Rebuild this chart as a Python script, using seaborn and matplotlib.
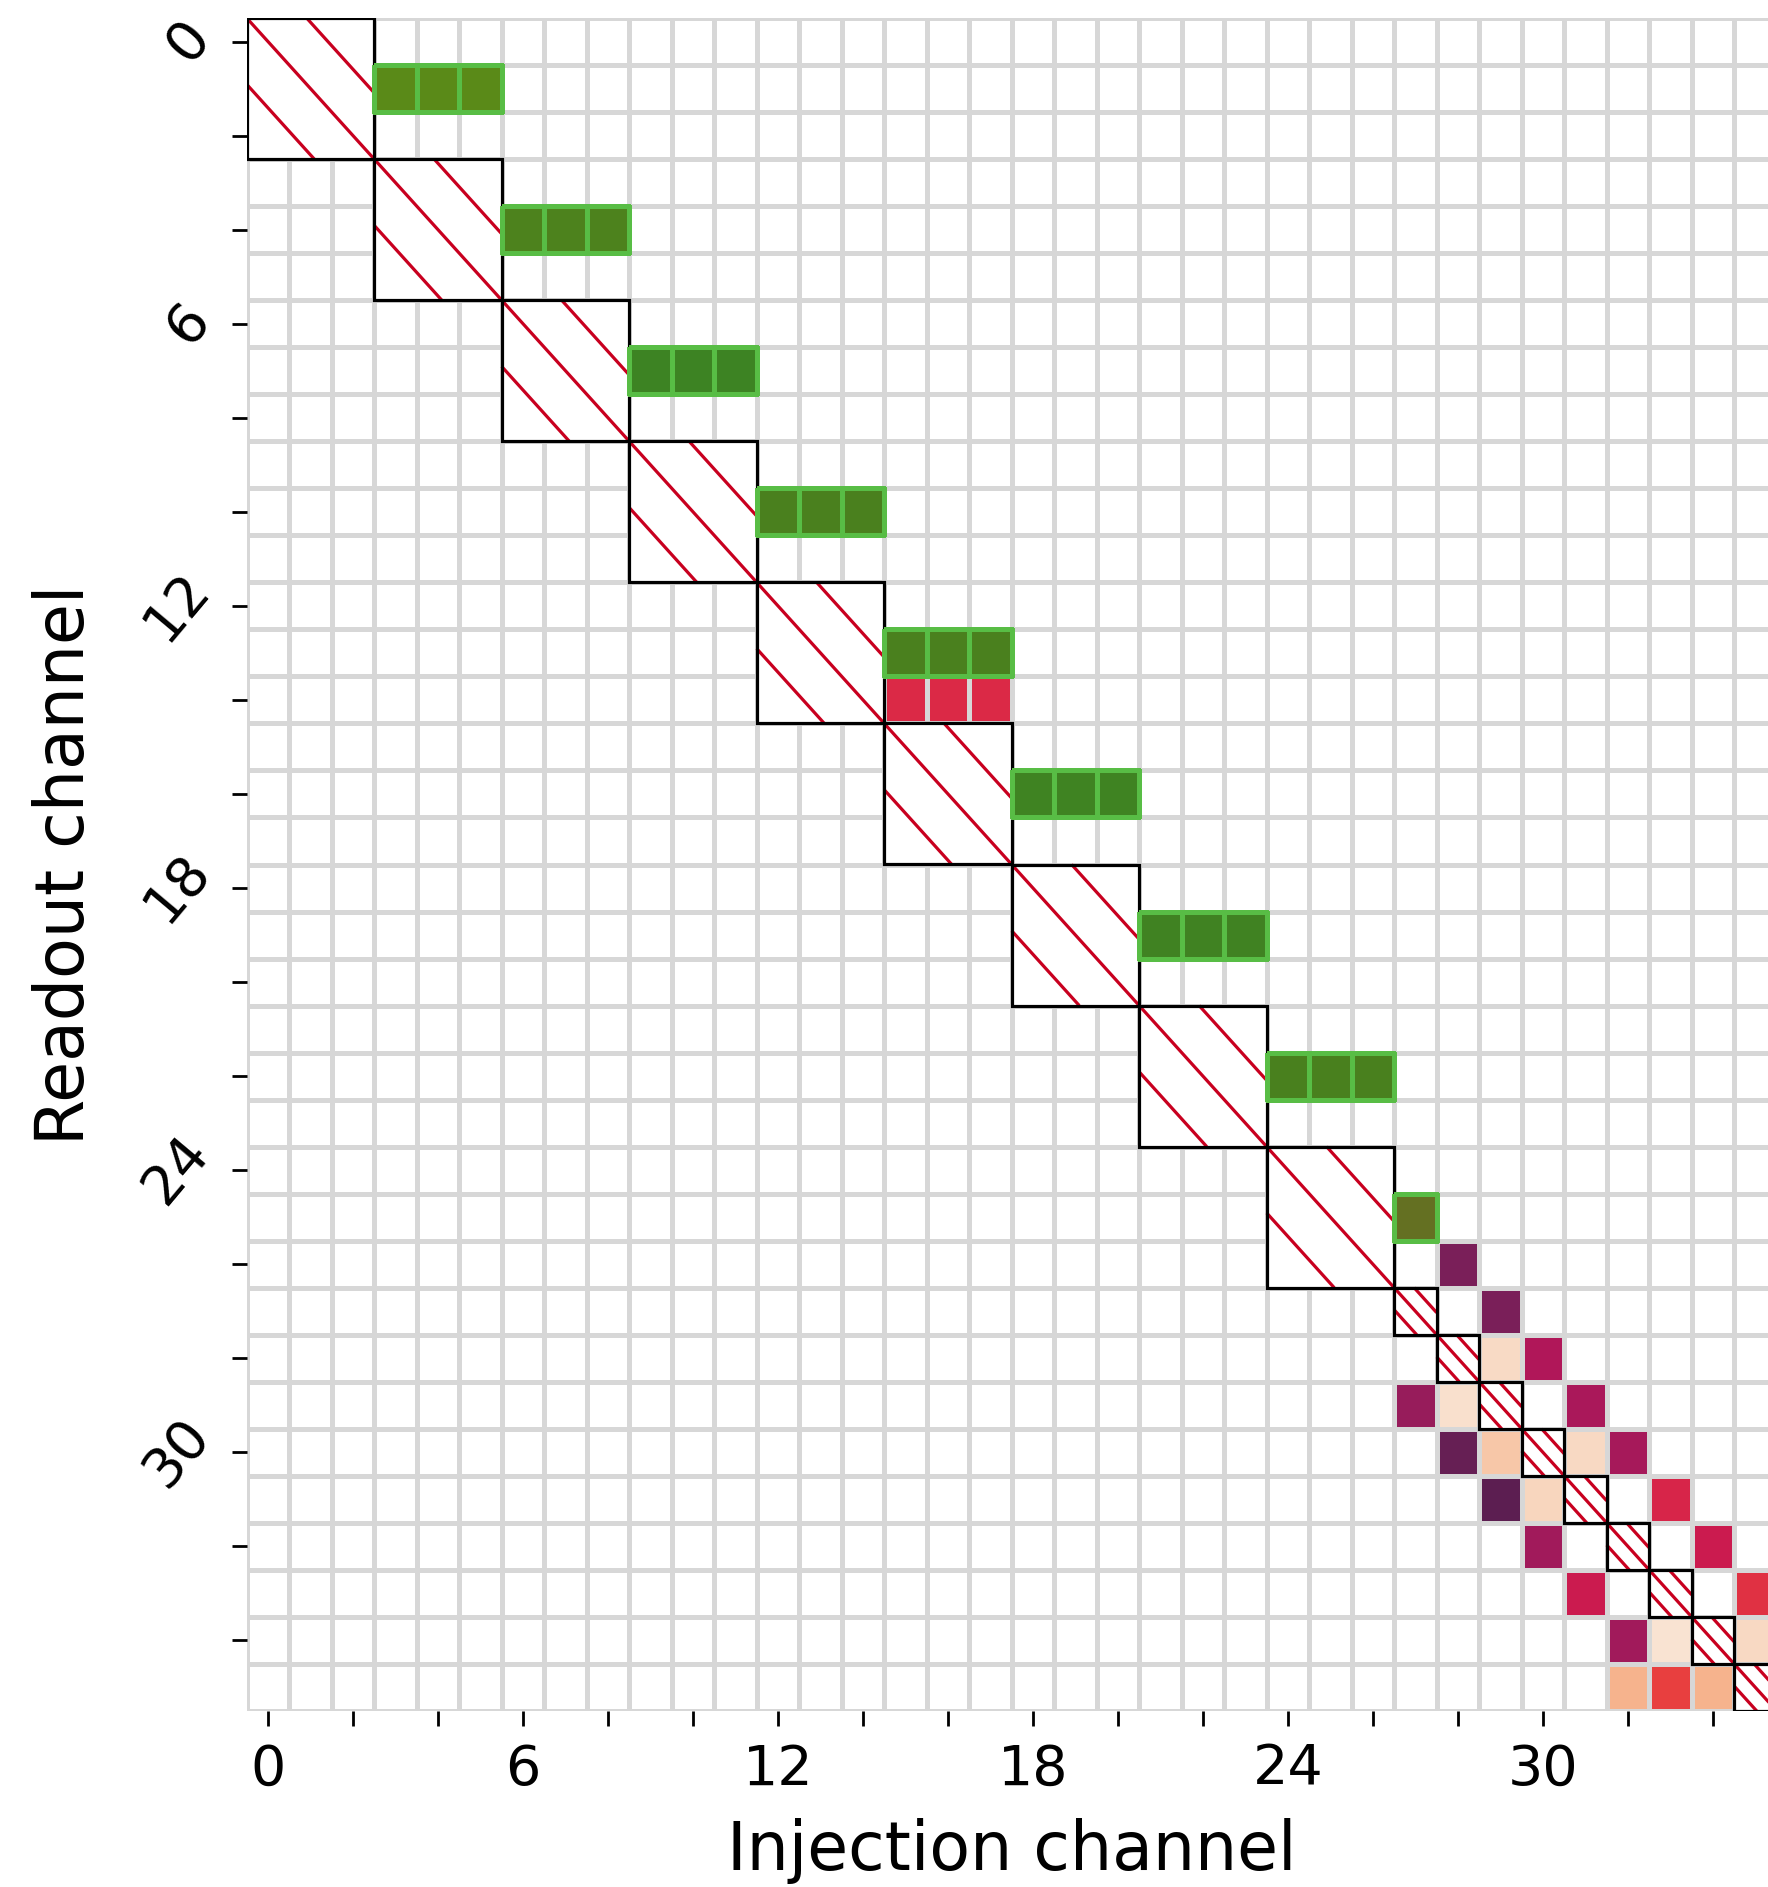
import numpy as np
import pandas as pd
import matplotlib
matplotlib.use("Agg")
import matplotlib.pyplot as plt
import seaborn as sns
from matplotlib.colors import ListedColormap, LinearSegmentedColormap, to_rgba
from matplotlib.patches import Rectangle

# ---------------- data ----------------
N = 36
channels = list(range(N))

# hatched diagonal blocks: start channel and size
block_starts = [0, 3, 6, 9, 12, 15, 18, 21, 24, 27, 28, 29, 30, 31, 32, 33, 34, 35]
block_sizes = [3, 3, 3, 3, 3, 3, 3, 3, 3, 1, 1, 1, 1, 1, 1, 1, 1, 1]

# green blocks (row, first column, number of columns, value)
green_rows = [1, 4, 7, 10, 13, 16, 19, 22, 25]
green_col0 = [3, 6, 9, 12, 15, 18, 21, 24, 27]
green_len = [3, 3, 3, 3, 3, 3, 3, 3, 1]
green_vals = [0.75, 0.55, 0.08, 0.50, 0.50, 0.15, 0.20, 0.48, 1.00]

# individual cells on the rocket scale
rocket_rows = [14, 14, 14, 26, 27, 28, 28, 29, 29, 29, 30, 30, 30, 30,
               31, 31, 31, 32, 32, 33, 33, 34, 34, 34, 35, 35, 35]
rocket_cols = [15, 16, 17, 28, 29, 29, 30, 27, 28, 31, 28, 29, 31, 32,
               29, 30, 33, 30, 34, 31, 35, 32, 33, 35, 32, 33, 34]
rocket_vals = [0.55, 0.55, 0.55, 0.31, 0.31, 0.955, 0.437, 0.375, 0.97, 0.418,
               0.264, 0.905, 0.953, 0.413, 0.242, 0.943, 0.536, 0.40, 0.503,
               0.50, 0.57, 0.40, 0.98, 0.95, 0.855, 0.60, 0.855]

tick_channels = list(range(0, N, 2))
tick_labels = [str(t) if t % 6 == 0 else "" for t in tick_channels]

# ---------------- styling ----------------
grid_col = "#d7d7d7"
red = "#c8001f"
green_edge = "#58bd45"
green_cmap = LinearSegmentedColormap.from_list(
    "grn", [(0.0, "#3a8424"), (0.5, "#4a801e"), (0.75, "#5a8a18"), (1.0, "#647022")])

W, H = 1768, 1887
fig = plt.figure(figsize=(W / 100, H / 100), dpi=100)
left, right, top, bottom = 246.7, 1776.7, 18.0, 1711.0
ax = fig.add_axes([left / W, 1 - bottom / H, (right - left) / W, (bottom - top) / H])

# background grid
bg = pd.DataFrame(np.zeros((N, N)), index=channels, columns=channels)
sns.heatmap(bg, ax=ax, cmap=ListedColormap(["white"]), cbar=False,
            linewidths=2.2, linecolor=grid_col)

# rocket cells
rk = np.full((N, N), np.nan)
for r, c, v in zip(rocket_rows, rocket_cols, rocket_vals):
    rk[r, c] = v
rk_df = pd.DataFrame(rk, index=channels, columns=channels)
sns.heatmap(rk_df, ax=ax, cmap="rocket", vmin=0, vmax=1, cbar=False,
            mask=np.isnan(rk), linewidths=2.2, linecolor=grid_col)
rk_mesh = ax.collections[-1]
ec = np.zeros((N * N, 4))
ec[~np.isnan(rk).ravel()] = to_rgba(grid_col)
rk_mesh.set_edgecolor(ec)

# hatched blocks
for s, size in zip(block_starts, block_sizes):
    ax.add_patch(Rectangle((s, s), size, size, facecolor="white",
                           edgecolor="none", zorder=3))
    d = 0.47 * size
    kw = dict(color=red, lw=2.3, zorder=3.2, solid_capstyle="butt")
    ax.plot([s, s + size], [s, s + size], **kw)
    ax.plot([s + d, s + size], [s, s + size - d], **kw)
    ax.plot([s, s + size - d], [s + d, s + size], **kw)
    ax.add_patch(Rectangle((s, s), size, size, facecolor="none",
                           edgecolor="black", lw=2.3, zorder=3.4))

# green cells
gr = np.full((N, N), np.nan)
for r, c0, n, v in zip(green_rows, green_col0, green_len, green_vals):
    for c in range(c0, c0 + n):
        gr[r, c] = v
gr_df = pd.DataFrame(gr, index=channels, columns=channels)
sns.heatmap(gr_df, ax=ax, cmap=green_cmap, vmin=0, vmax=1, cbar=False,
            mask=np.isnan(gr), linewidths=2.4, linecolor=green_edge)
gr_mesh = ax.collections[-1]
gec = np.zeros((N * N, 4))
gec[~np.isnan(gr).ravel()] = to_rgba(green_edge)
gr_mesh.set_edgecolor(gec)
gr_mesh.set_zorder(4)

# axes / ticks
ax.set_xlim(0, N)
ax.set_ylim(N, 0)
ax.set_xticks(np.array(tick_channels) + 0.5)
ax.set_xticklabels(tick_labels, rotation=0, fontsize=40)
ax.set_yticks(np.array(tick_channels) + 0.5)
ax.set_yticklabels(tick_labels, rotation=50, fontsize=40)
ax.tick_params(axis="both", length=11, width=2, color="black")
ax.tick_params(axis="x", pad=12)
ax.tick_params(axis="y", pad=8)
for sp in ax.spines.values():
    sp.set_visible(False)

ax.set_xlabel("Injection channel", fontsize=48)
ax.set_ylabel("Readout channel", fontsize=48)
ax.xaxis.set_label_coords(0.5, -0.063)
ax.yaxis.set_label_coords(-0.097, 0.5)

fig.savefig("out.png", dpi=100)
